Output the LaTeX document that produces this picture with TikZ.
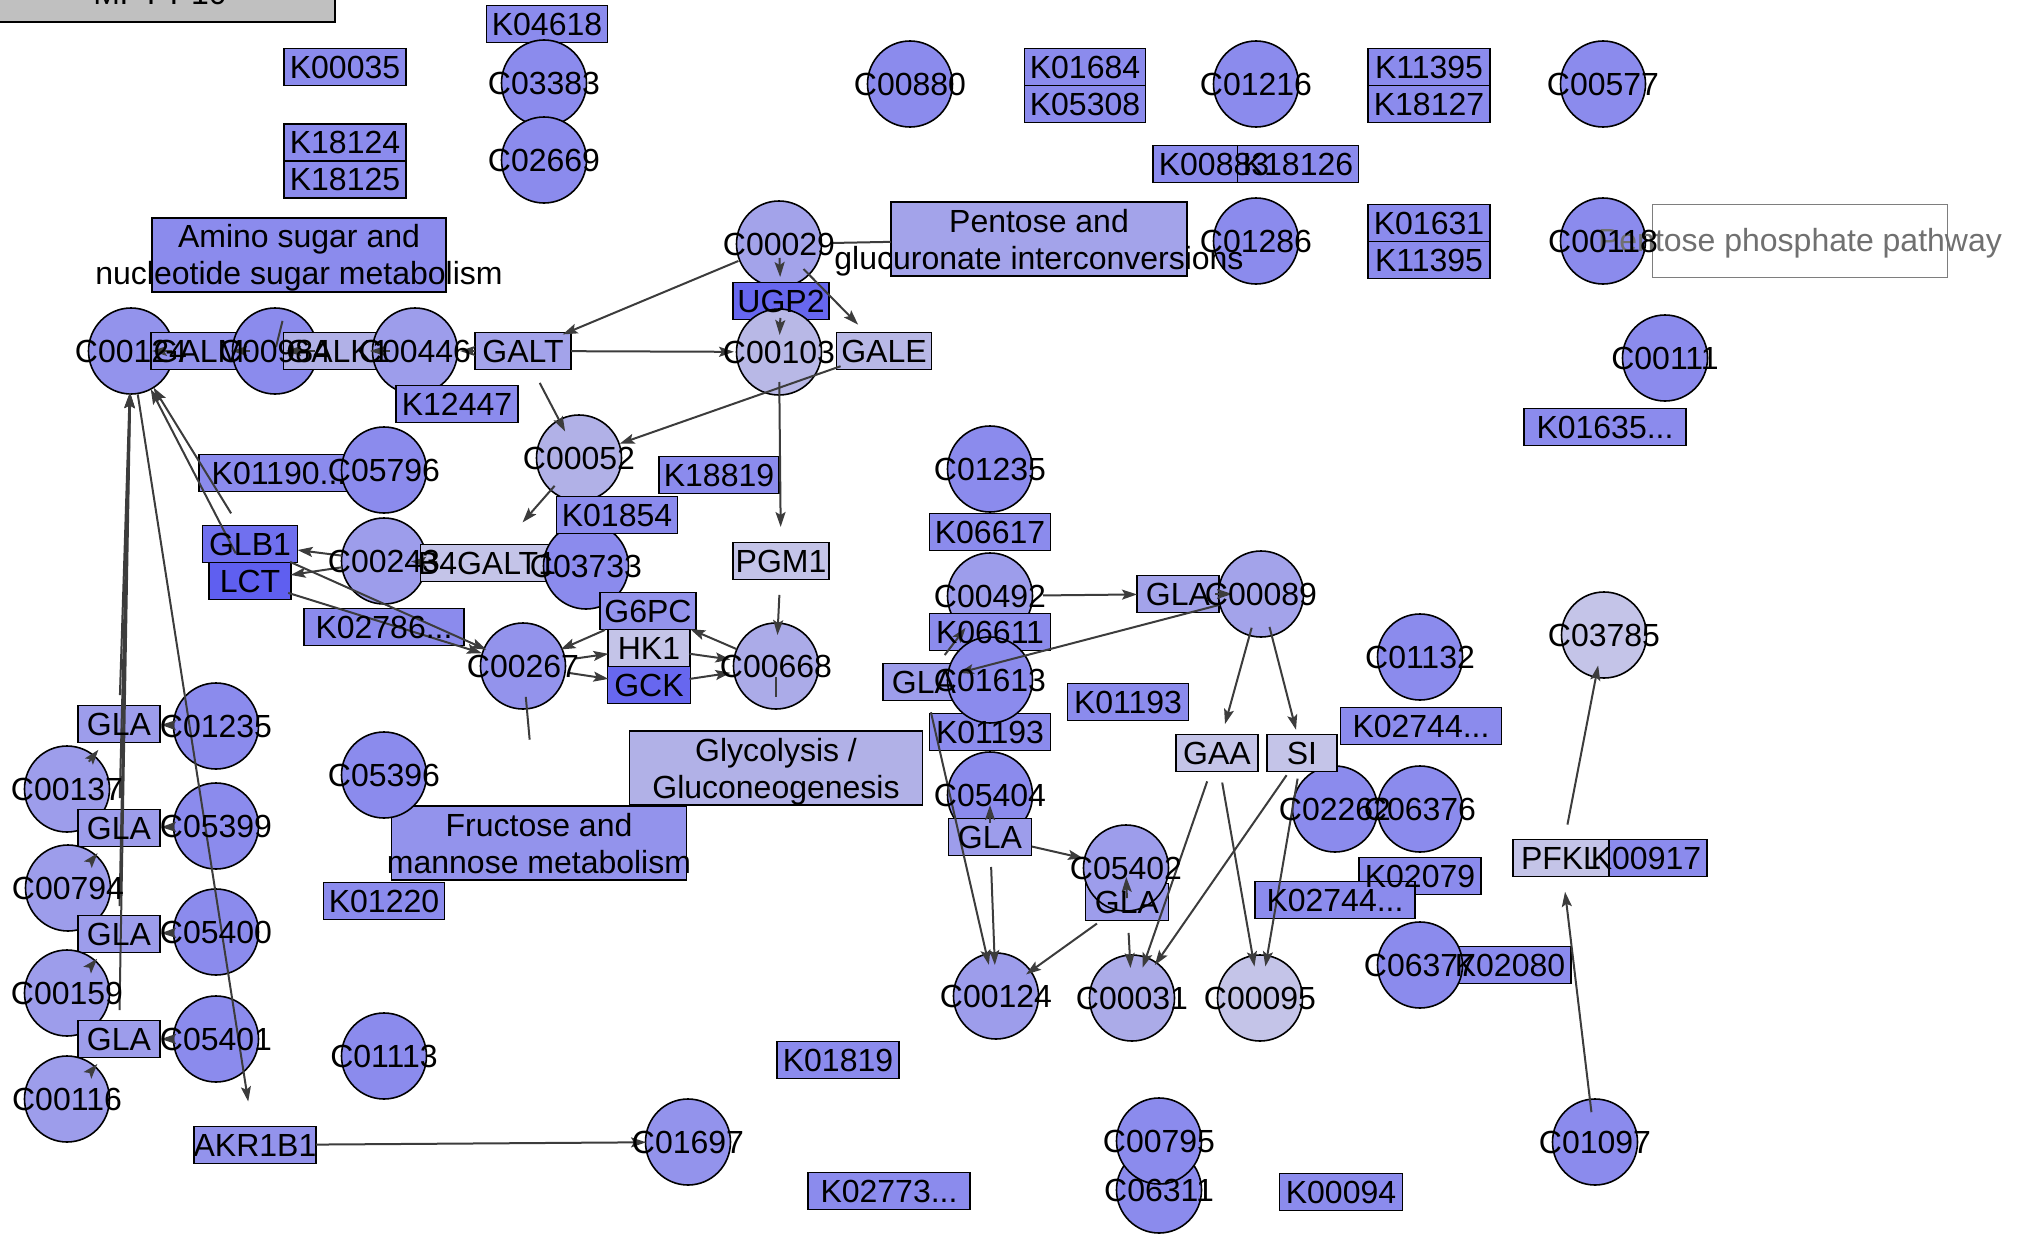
\documentclass[tikz,border=0pt]{standalone}
\usepackage{fontspec}
\setmainfont{Liberation Sans}
\usetikzlibrary{arrows.meta,calc,shapes.geometric}
\pgfdeclarelayer{lab}
\pgfsetlayers{main,lab}
\definecolor{cM}{HTML}{8B8BED}
\definecolor{cM2}{HTML}{9393EC}
\definecolor{cL1}{HTML}{A3A3EA}
\definecolor{cL2}{HTML}{B8B8E6}
\definecolor{cL3}{HTML}{B1B1E7}
\definecolor{cL4}{HTML}{9D9DEB}
\definecolor{cL5}{HTML}{C4C4E8}
\definecolor{cL6}{HTML}{ABABE8}
\definecolor{cD1}{HTML}{7070EF}
\definecolor{cD2}{HTML}{5F5FF0}
\definecolor{cD3}{HTML}{6767EF}
\definecolor{cGray}{HTML}{C0C0C0}
\definecolor{edgec}{HTML}{3C3C3C}
\definecolor{ppgray}{HTML}{707070}
\tikzset{
 cpd/.style={ellipse, draw=black, line width=1.6pt, minimum width=85pt, minimum height=86pt, inner sep=0pt},
 gbox/.style={rectangle, draw=black, line width=1.6pt, minimum height=37pt, inner sep=0pt},
 mapbox/.style={rectangle, draw=black, line width=1.6pt, minimum height=74pt, inner sep=0pt},
 lbl/.style={inner sep=0pt, text height=22.5pt, text depth=0pt, font=\fontsize{32}{37}\selectfont},
 lnk/.style={draw=edgec, line width=2pt},
 arrw/.style={lnk, -{Stealth[length=15pt,width=10pt,inset=3pt]}},
}
\newcommand\Cpd[5]{\node[cpd,fill=#4] (#1) at (#2,#3) {};\begin{pgfonlayer}{lab}\node[lbl] (#1t) at (#1.center) {#5};\end{pgfonlayer}}
\newcommand\Gene[6]{\node[gbox,minimum width=#4pt,fill=#5] (#1) at (#2,#3) {};\begin{pgfonlayer}{lab}\node[lbl] (#1t) at (#1.center) {#6};\end{pgfonlayer}}
\newcommand\Arr[4]{\draw[arrw] ($(#1.center)!#3pt!(#2.center)$) -- ($(#2.center)!#4pt!(#1.center)$);}
\newcommand\Frag[4]{\draw[lnk] ($(#1.center)!#3pt!(#2.center)$) -- ($(#1.center)!#4pt!(#2.center)$);}
\begin{document}
\begin{tikzpicture}[x=1pt,y=-1pt]
\useasboundingbox (0,0) rectangle (2019,1239);
% title and pathway boxes
\node[draw=black, line width=1.6pt, fill=cGray, minimum width=340pt, minimum height=60pt, inner sep=0pt] (title) at (165,-8) {};
\begin{pgfonlayer}{lab}\node[lbl] (titlet) at (160,-6.5) {MPT-P10};\end{pgfonlayer}
\node[mapbox, minimum width=294pt, fill=cM] (amino) at (299,255) {};
\node[mapbox, minimum width=296pt, fill=cL1] (pentg) at (1039,239) {};
\node[mapbox, minimum width=293pt, fill=cL3] (glyco) at (776,768) {};
\node[mapbox, minimum width=295pt, fill=cM2] (fruct) at (539,843) {};
\node[mapbox, minimum width=295pt, minimum height=73pt, draw=ppgray!90, fill=white] (pentp) at (1800,241) {};
\begin{pgfonlayer}{lab}
\node[lbl] (amino1) at (299,236.5) {Amino sugar and};
\node[lbl] (amino2) at (299,273.5) {nucleotide sugar metabolism};
\node[lbl] (pentg1) at (1039,221) {Pentose and};
\node[lbl] (pentg2) at (1039,258) {glucuronate interconversions};
\node[lbl] (glyco1) at (776,750) {Glycolysis /};
\node[lbl] (glyco2) at (776,787) {Gluconeogenesis};
\node[lbl] (fruct1) at (539,825) {Fructose and};
\node[lbl] (fruct2) at (539,862) {mannose metabolism};
\node[lbl, text=ppgray] (pentpt) at (1800,240) {Pentose phosphate pathway};
\end{pgfonlayer}
% nodes
\Gene{K04618}{547}{24}{121}{cM}{K04618}
\Cpd{C03383}{544}{83}{cM}{C03383}
\Cpd{C02669}{544}{160}{cM}{C02669}
\Gene{K00035}{345}{67}{122}{cM}{K00035}
\Gene{K18124}{345}{142.5}{122}{cM}{K18124}
\Gene{K18125}{345}{179.5}{122}{cM}{K18125}
\Cpd{C00880}{910}{84}{cM}{C00880}
\Gene{K01684}{1085}{67}{121}{cM}{K01684}
\Gene{K05308}{1085}{104}{121}{cM}{K05308}
\Cpd{C01216}{1256}{84}{cM}{C01216}
\Gene{K00883}{1214}{164}{122}{cM}{K00883}
\Gene{K18126}{1298}{164}{121}{cM}{K18126}
\Gene{K11395a}{1429}{67}{122}{cM}{K11395}
\Gene{K18127}{1429}{104}{122}{cM}{K18127}
\Cpd{C00577}{1603}{84}{cM}{C00577}
\Gene{K01631}{1429}{223}{122}{cM}{K01631}
\Gene{K11395b}{1429}{260}{122}{cM}{K11395}
\Cpd{C00118}{1603}{241}{cM}{C00118}
\Cpd{C01286}{1256}{241}{cM}{C01286}
\Cpd{C00029}{779}{244}{cL1}{C00029}
\Gene{UGP2}{781}{301}{96}{cD3}{UGP2}
\Cpd{C00103}{779}{352}{cL2}{C00103}
\Gene{GALE}{884}{351}{95}{cL2}{GALE}
\Cpd{C00124a}{131}{351}{cM2}{C00124}
\Gene{GALM}{199}{351}{96}{cM2}{GALM}
\Cpd{C00984}{275}{351}{cM}{C00984}
\Gene{GALK1}{338}{351}{109}{cL3}{GALK1}
\Cpd{C00446}{415}{351}{cL4}{C00446}
\Gene{K12447}{457}{404}{122}{cM}{K12447}
\Gene{GALT}{523}{351}{96}{cL1}{GALT}
\Cpd{C00111}{1665}{358}{cM}{C00111}
\Gene{K01635}{1605}{427}{162}{cM}{K01635...}
\Gene{K01190}{279}{473}{160}{cM}{K01190...}
\Cpd{C05796}{384}{470}{cM}{C05796}
\Gene{K18819}{719}{475}{120}{cM}{K18819}
\Cpd{C00052}{579}{458}{cL3}{C00052}
\Cpd{C00243}{384}{561}{cL4}{C00243}
\Gene{B4GALT1}{487}{563}{133}{cL5}{B4GALT1}
\Cpd{C03733}{586}{566}{cM}{C03733}
\Gene{K01854}{617}{515}{121}{cM}{K01854}
\Gene{GLB1}{250}{544}{95}{cD1}{GLB1}
\Gene{LCT}{250}{581}{82}{cD2}{LCT}
\Gene{PGM1}{781}{561}{96}{cL5}{PGM1}
\Cpd{C01235b}{990}{469}{cM}{C01235}
\Gene{K06617}{990}{532}{121}{cM}{K06617}
\Cpd{C00492}{990}{596}{cL4}{C00492}
\Gene{K06611}{990}{632}{121}{cM}{K06611}
\Gene{K01193a}{990}{732}{121}{cM}{K01193}
\Gene{GLAm}{924}{682}{82}{cL4}{GLA}
\Cpd{C01613}{990}{680}{cM}{C01613}
\Gene{G6PC}{648}{611}{96}{cM2}{G6PC}
\Gene{HK1}{649}{648}{82}{cL5}{HK1}
\Gene{GCK}{649}{685}{83}{cD3}{GCK}
\Cpd{C00267}{523}{666}{cM2}{C00267}
\Cpd{C00668}{776}{666}{cL6}{C00668}
\Gene{K02786}{384}{627}{160}{cM}{K02786...}
\Gene{GLAr}{1178}{594}{82}{cL1}{GLA}
\Cpd{C00089}{1261}{594}{cL1}{C00089}
\Gene{K01193b}{1128}{702}{121}{cM}{K01193}
\Gene{GAA}{1217}{753}{82}{cL5}{GAA}
\Cpd{C02262}{1335}{809}{cM}{C02262}
\Gene{SI}{1302}{753}{70}{cL5}{SI}
\Cpd{C06376}{1420}{809}{cM}{C06376}
\Cpd{C01132}{1420}{657}{cM}{C01132}
\Gene{K02744a}{1421}{726}{161}{cM}{K02744...}
\Cpd{C03785}{1604}{635}{cL5}{C03785}
\Gene{GLA1}{119}{724}{82}{cL4}{GLA}
\Cpd{C01235a}{216}{726}{cM}{C01235}
\Cpd{C00137}{67}{789}{cL4}{C00137}
\Cpd{C05396}{384}{775}{cM}{C05396}
\Cpd{C05404}{990}{795}{cM}{C05404}
\Gene{GLAb}{990}{837}{83}{cL4}{GLA}
\Gene{GLAc}{1127}{902}{83}{cL4}{GLA}
\Cpd{C05402}{1126}{868}{cL4}{C05402}
\Gene{GLA2}{119}{828}{82}{cL4}{GLA}
\Cpd{C05399}{216}{826}{cM}{C05399}
\Cpd{C00794}{68}{888}{cL4}{C00794}
\Gene{GLA3}{119}{934}{82}{cL4}{GLA}
\Cpd{C05400}{216}{932}{cM}{C05400}
\Cpd{C00159}{67}{993}{cL4}{C00159}
\Gene{GLA4}{119}{1039}{82}{cL4}{GLA}
\Cpd{C05401}{216}{1039}{cM}{C05401}
\Cpd{C00116}{67}{1099}{cL4}{C00116}
\Gene{K01220}{384}{901}{121}{cM}{K01220}
\Gene{K02079}{1420}{876}{122}{cM}{K02079}
\Gene{K02744b}{1335}{900}{160}{cM}{K02744...}
\Gene{K02080}{1510}{965}{122}{cM}{K02080}
\Cpd{C06377}{1420}{965}{cM}{C06377}
\Gene{K00917}{1646}{858}{122}{cM}{K00917}
\Gene{PFKL}{1561}{858}{96}{cL5}{PFKL}
\Cpd{C00124b}{996}{996}{cL4}{C00124}
\Cpd{C00031}{1132}{998}{cL6}{C00031}
\Cpd{C00095}{1260}{998}{cL5}{C00095}
\Gene{K01819}{838}{1060}{122}{cM}{K01819}
\Cpd{C01113}{384}{1056}{cM}{C01113}
\Gene{AKR1B1}{255}{1145}{122}{cM2}{AKR1B1}
\Cpd{C01697}{688}{1142}{cM2}{C01697}
\Gene{K02773}{889}{1191}{162}{cM}{K02773...}
\Cpd{C06311}{1159}{1190}{cM}{C06311}
\Cpd{C00795}{1159}{1141}{cM}{C00795}
\Gene{K00094}{1341}{1192}{123}{cM}{K00094}
\Cpd{C01097}{1595}{1142}{cM}{C01097}
% connectors
\Arr{GLA1}{C00124a}{29}{42}
\Arr{GLA2}{C00124a}{30}{42}
\Arr{GLA3}{C00124a}{28}{42}
\Arr{GLA4}{C00124a}{29}{42}
\Arr{GLB1}{C00124a}{36}{43}
\Arr{LCT}{C00124a}{31}{43}
\Arr{C00124a}{AKR1B1}{44}{44}
\Arr{C00243}{GLB1}{42}{48}
\Arr{C00243}{LCT}{42}{41}
\Arr{GLB1}{C00267}{44}{40}
\Arr{LCT}{C00267}{40}{43}
\Arr{B4GALT1}{C00243}{50}{27}
\Arr{C00052}{B4GALT1}{37}{54}
\Arr{GALT}{C00052}{36}{30}
\Arr{GALE}{C00052}{46}{43}
\Arr{C00029}{GALT}{44}{43}
\Arr{GALT}{C00103}{48}{45}
\Arr{C00029}{UGP2}{14}{24}
\Arr{UGP2}{C00103}{17}{17}
\Arr{C00029}{GALE}{35}{37}
\Arr{C00103}{PGM1}{30}{34}
\Arr{PGM1}{C00668}{34}{31}
\Arr{C00668}{G6PC}{43}{46}
\Arr{HK1}{C00668}{41}{46}
\Arr{GCK}{C00668}{41}{46}
\Arr{C00267}{HK1}{53}{41}
\Arr{C00267}{GCK}{46}{41}
\Arr{G6PC}{C00267}{47}{41}
\Frag{C00267}{fruct}{31}{74}
\Frag{C00668}{glyco}{11}{31}
\Frag{C00984}{amino}{4}{31}
\Frag{C00029}{pentg}{54}{112}
\Arr{GALM}{C00124a}{27}{21}
\Arr{C00984}{GALM}{25}{33}
\Arr{GALK1}{C00984}{23}{11}
\Arr{C00446}{GALK1}{25}{32}
\Arr{GALT}{C00446}{48}{45}
\Arr{C01235a}{GLA1}{42}{42}
\Arr{C05399}{GLA2}{42}{42}
\Arr{C05400}{GLA3}{42}{42}
\Arr{C05401}{GLA4}{42}{42}
\Arr{C00137}{GLA1}{35}{33}
\Arr{C00794}{GLA2}{35}{33}
\Arr{C00159}{GLA3}{35}{33}
\Arr{C00116}{GLA4}{35}{33}
\Arr{AKR1B1}{C01697}{61}{42}
\Arr{C00492}{GLAr}{53}{41}
\Arr{GLAr}{C00089}{37}{29}
\Arr{C00089}{GLAm}{43}{36}
\Arr{GLAm}{C00492}{34}{40}
\Arr{GLAm}{C00124b}{31}{32}
\Arr{GLAb}{C05404}{14}{10}
\Arr{GLAb}{C05402}{43}{44}
\Arr{GLAc}{C05402}{4}{9}
\Arr{GLAb}{C00124b}{30}{31}
\Arr{GLAc}{C00124b}{37}{37}
\Arr{GLAc}{C00031}{31}{30}
\Arr{C00089}{GAA}{35}{30}
\Arr{C00089}{SI}{34}{24}
\Arr{GAA}{C00031}{30}{32}
\Arr{GAA}{C00095}{30}{32}
\Arr{SI}{C00031}{27}{40}
\Arr{SI}{C00095}{26}{32}
\Arr{C01097}{PFKL}{30}{34}
\Arr{PFKL}{C03785}{34}{31}
\end{tikzpicture}
\end{document}
